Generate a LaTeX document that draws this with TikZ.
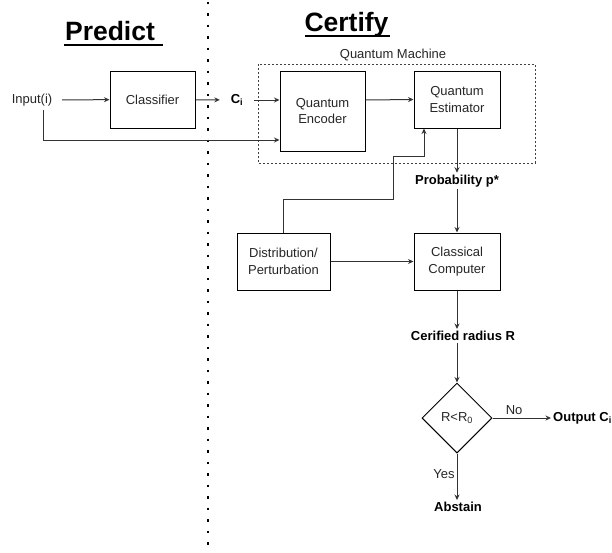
\documentclass[tikz,border=0pt]{standalone}
\usepackage{fontspec}
\setmainfont{Liberation Sans}
\usetikzlibrary{arrows.meta,shapes.geometric}

\begin{document}
\begin{tikzpicture}[x=1pt,y=-1pt]

    \tikzset{
      block/.style={
        draw=black,
        line width=1pt,
        align=center,
        text=black!85,
        font=\fontsize{13}{16.5}\selectfont,
        minimum width=85pt,
        minimum height=57pt,
        inner sep=0pt,
      },
      txt/.style={
        text=black!85,
        font=\fontsize{13}{16}\selectfont,
        inner sep=1pt,
      },
      btxt/.style={
        text=black,
        font=\fontsize{13}{16}\selectfont\bfseries,
        inner sep=2pt,
      },
      flow/.style={
        draw=black!80,
        line width=1pt,
        -{Stealth[length=5.5pt,width=5pt]},
      },
    }
    \useasboundingbox (0,0) rectangle (612,552);

    % headings
    \node[anchor=base,font=\fontsize{26.5}{30}\selectfont\bfseries] (predict) at (110,40) {Predict};
    \draw[line width=2pt] (64,45)--(163,45);
    \node[anchor=base,font=\fontsize{26.5}{30}\selectfont\bfseries] (certify) at (346.5,31) {Certify};
    \draw[line width=2pt] (305,36)--(390,36);

    % divider
    \draw[line width=2.6pt,dash pattern=on 2.6pt off 8.9pt] (208,1.5)--(208,552);

    % quantum machine frame
    \draw[black!75,line width=0.8pt,dash pattern=on 2pt off 2pt] (258,64) rectangle (535,163);
    \node[txt] (qmlabel) at (393,55) {Quantum Machine};

    % predict side
    \node[txt,minimum width=60pt] (input) at (32,100) {Input(i)};
    \node[block] (cls) at (152.5,99.5) {Classifier};
    \node[btxt,minimum width=34pt] (ci) at (237,100) {C\textsubscript{i}};
    \coordinate (tap) at (43,110);

    % certify side
    \node[block,minimum height=80pt] (enc) at (322.5,111) {Quantum\\Encoder};
    \node[block,minimum width=86pt] (est) at (457,99.5) {Quantum\\Estimator};
    \node[btxt] (prob) at (457,181) {Probability p*};
    \node[block,minimum width=93pt] (dist) at (283.5,261.5) {Distribution/\\Perturbation};
    \node[block,minimum width=86pt] (cc) at (457,261.5) {Classical\\Computer};
    \node[btxt] (rad) at (463,336) {Cerified radius R};
    \node[draw=black,line width=1pt,diamond,minimum width=70pt,minimum height=70pt,inner sep=0pt,
          text=black!85,font=\fontsize{13}{16}\selectfont] (dec) at (457,418) {R<R\textsubscript{0}};
    \node[btxt,anchor=west] (out) at (551,418) {Output C\textsubscript{i}};
    \node[btxt] (abstain) at (458,507) {Abstain};

    % connectors
    \draw[flow] (input) -- (cls);
    \draw[flow] (cls) -- (ci);
    \draw[flow] (ci.east) -- ([yshift=11pt]enc.west);
    \draw[flow] (tap) |- ([yshift=-29pt]enc.west);
    \draw[flow] ([yshift=11pt]enc.east) -- (est.west);
    \draw[flow] (est.south) -- (prob.north);
    \draw[flow] (prob.south) -- (cc.north);
    \draw[flow] (dist.north) |- (393,199) |- (424,156) -- ([xshift=-33pt]est.south);
    \draw[flow] (dist) -- (cc);
    \draw[flow] (cc.south) -- (rad.north -| cc.south);
    \draw[flow] (rad.south -| dec.north) -- (dec.north);
    \draw[flow] (dec.east) -- node[txt,above=2pt,pos=0.37] (no) {No} (out.west);
    \draw[flow] (dec.south) -- node[txt,left=1pt,pos=0.45] (yes) {Yes} (abstain.north -| dec.south);

\end{tikzpicture}
\end{document}
